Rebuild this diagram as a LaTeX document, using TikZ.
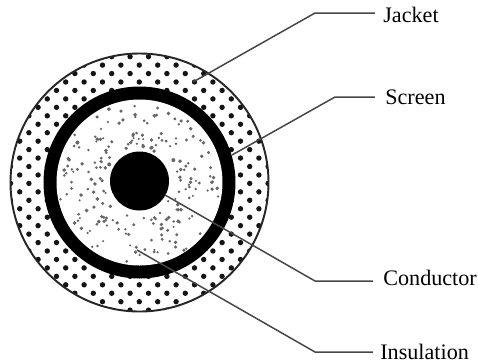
\documentclass[tikz,border=0pt]{standalone}
\usepackage{fontspec}
\setmainfont{Liberation Serif}
\usetikzlibrary{calc}
\begin{document}
\begin{tikzpicture}[
    x=0.02cm,y=-0.02cm,
    leader/.style={draw=black!72,line width=0.85pt},
    tag/.style={anchor=west,inner sep=0pt,font=\fontsize{12.6}{14}\selectfont},
    jacketdot/.style={fill=black!92},
    speck/.style={fill=black!60}
]
\useasboundingbox (0,0) rectangle (478,363);

\coordinate (O) at (139.5,182.5);

\begin{scope}
\clip (O) circle (129);
\foreach \row in {-3,...,28}
  \foreach \col in {-8,...,7} {
    \pgfmathsetmacro\dotx{139.3+18.4*\col+9.2*mod(abs(\row),2)}
    \pgfmathsetmacro\doty{82+8.45*\row}
    \fill[jacketdot] (\dotx,\doty) circle (2.7);
  }
\end{scope}
\draw[line width=1.1pt,black!85] (O) circle (129);
\fill[black] (O) circle (96);
\fill[white] (O) circle (83);

\pgfmathsetseed{4172}
\foreach \i in {1,...,210} {
    \pgfmathsetmacro\ang{rnd*360}
    \pgfmathsetmacro\rad{34+rnd*47}
    \pgfmathsetmacro\spk{1.1+rnd*0.9}
    \fill[speck] ($(O)+(\ang:\rad)$) circle (\spk);
}
\fill[black] (139.5,181) circle (29.5);

\node[tag] (J) at (383,15)  {Jacket};
\node[tag] (S) at (385,97)  {Screen};
\node[tag] (C) at (383,278) {Conductor};
\node[tag] (I) at (380,352) {Insulation};

\coordinate (Ja) at (193,82);
\coordinate (Jb) at (315,13);
\coordinate (Jc) at (375,13);
\coordinate (Sa) at (232,155);
\coordinate (Sb) at (335,97);
\coordinate (Sc) at (375,97);
\coordinate (Ca) at (165,195);
\coordinate (Cb) at (315,281);
\coordinate (Cc) at (373,281);
\coordinate (Ia) at (137,250);
\coordinate (Ib) at (315,352);
\coordinate (Ic) at (373,352);

\draw[leader] (Ja) -- (Jb) -- (Jc);
\draw[leader] (Sa) -- (Sb) -- (Sc);
\draw[leader] (Ca) -- (Cb) -- (Cc);
\draw[leader] (Ia) -- (Ib) -- (Ic);
\end{tikzpicture}
\end{document}
